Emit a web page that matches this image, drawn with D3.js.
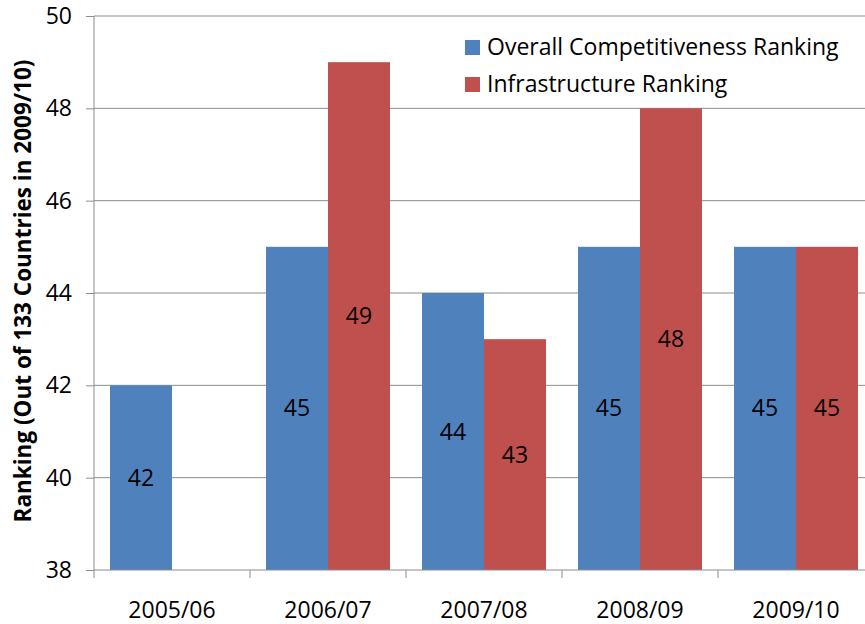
<!DOCTYPE html>
<html>
<head>
<meta charset="utf-8">
<script src="https://cdn.jsdelivr.net/npm/d3@7"></script>
<style>
  html, body { margin: 0; padding: 0; background: #fff; }
  svg { display: block; font-family: "Open Sans", Carlito, sans-serif; }
</style>
</head>
<body>
<svg id="chart" width="865" height="624"></svg>
<script>
// Ranking by season
const seasons = ["2005/06", "2006/07", "2007/08", "2008/09", "2009/10"];
const overallRanking = [42, 45, 44, 45, 45];
const infrastructureRanking = [null, 49, 43, 48, 45];
const seriesNames = ["Overall Competitiveness Ranking", "Infrastructure Ranking"];
const seriesColors = ["#4F81BD", "#C0504D"];
const yTicks = [38, 40, 42, 44, 46, 48, 50];

const svg = d3.select("#chart");
const plotLeft = 94, plotRight = 874, plotTop = 16, plotBottom = 570;
const fs = 23;

const x = d3.scaleBand().domain(seasons).range([plotLeft, plotRight]).paddingInner(0).paddingOuter(0);
const inner = d3.scaleBand().domain([0, 1]).range([0, x.bandwidth()]).paddingOuter(0.258).paddingInner(0);
const y = d3.scaleLinear().domain([38, 50]).range([plotBottom, plotTop]);

// horizontal gridlines
svg.append("g").selectAll("line").data(yTicks.slice(1)).join("line")
  .attr("x1", plotLeft).attr("x2", 865)
  .attr("y1", d => y(d)).attr("y2", d => y(d))
  .attr("stroke", "#8c8c8c").attr("stroke-width", 1);

// bars
const series = [overallRanking, infrastructureRanking];
const rows = [];
seasons.forEach((s, i) => series.forEach((vals, k) => {
  if (vals[i] != null) rows.push({ season: s, k, v: vals[i] });
}));

svg.append("g").selectAll("rect").data(rows).join("rect")
  .attr("x", d => x(d.season) + inner(d.k))
  .attr("width", inner.bandwidth())
  .attr("y", d => y(d.v))
  .attr("height", d => y(38) - y(d.v))
  .attr("fill", d => seriesColors[d.k]);

// value labels centered in bars
svg.append("g").selectAll("text").data(rows).join("text")
  .attr("x", d => x(d.season) + inner(d.k) + inner.bandwidth() / 2)
  .attr("y", d => (y(d.v) + y(38)) / 2)
  .attr("dy", "0.35em")
  .attr("text-anchor", "middle")
  .attr("font-size", fs)
  .attr("fill", "#000")
  .text(d => d.v);

// y axis
const yAxis = d3.axisLeft(y).tickValues(yTicks).tickSize(8).tickPadding(14);
const gy = svg.append("g").attr("transform", `translate(${plotLeft},0)`).call(yAxis);
gy.attr("font-family", null).attr("font-size", null);
gy.select(".domain").attr("stroke", "#8c8c8c").attr("d", `M0,${plotTop}V${plotBottom}`);
gy.selectAll(".tick line").attr("stroke", "#8c8c8c");
gy.selectAll(".tick text").attr("font-size", fs).attr("fill", "#000");

// x axis with ticks at band boundaries
const gx = svg.append("g").attr("transform", `translate(0,${plotBottom})`);
gx.append("line").attr("x1", plotLeft).attr("x2", 865).attr("y1", 0).attr("y2", 0).attr("stroke", "#8c8c8c");
gx.selectAll("line.tk").data(seasons).join("line").attr("class", "tk")
  .attr("x1", d => x(d)).attr("x2", d => x(d))
  .attr("y1", 0).attr("y2", 8).attr("stroke", "#8c8c8c");
gx.selectAll("text").data(seasons).join("text")
  .attr("x", d => x(d) + x.bandwidth() / 2)
  .attr("y", 40)
  .attr("dy", "0.35em")
  .attr("text-anchor", "middle")
  .attr("font-size", fs)
  .attr("fill", "#000")
  .text(d => d);

// y axis title
svg.append("text")
  .attr("transform", `translate(23,291) rotate(-90)`)
  .attr("text-anchor", "middle")
  .attr("dy", "0.35em")
  .attr("font-size", 22.5)
  .attr("font-weight", "bold")
  .attr("fill", "#000")
  .text("Ranking (Out of 133 Countries in 2009/10)");

// legend
const legend = svg.append("g").attr("transform", "translate(465,47)");
seriesNames.forEach((name, k) => {
  const g = legend.append("g").attr("transform", `translate(0,${k * 37})`);
  g.append("rect").attr("x", 0).attr("y", -7).attr("width", 15).attr("height", 15).attr("fill", seriesColors[k]);
  g.append("text").attr("x", 22).attr("y", 0).attr("dy", "0.35em")
    .attr("font-size", fs).attr("fill", "#000").text(name);
});
</script>
</body>
</html>
